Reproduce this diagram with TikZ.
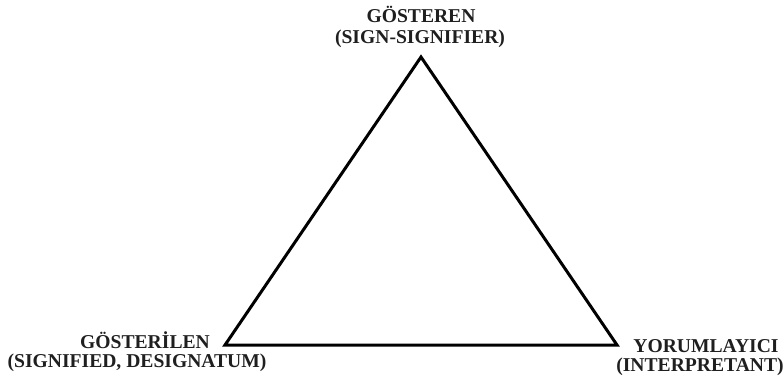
\documentclass[tikz,border=0pt]{standalone}
\usepackage{fontspec}
\setmainfont{Liberation Serif}
\begin{document}
\begin{tikzpicture}[x=1pt,y=-1pt,
  lbl/.style={anchor=base,inner sep=0pt,font=\fontsize{19.6}{21}\selectfont\bfseries,text=black!88},
  tri/.style={line width=3pt,line join=miter,black}]
\useasboundingbox (0,0) rectangle (784,379);
\coordinate (A) at (421,57);
\coordinate (B) at (225,345);
\coordinate (C) at (617,345);
\draw[tri] (A) -- (B) -- (C) -- cycle;
\node[lbl] (t1) at (421,23) {GÖSTEREN};
\node[lbl] (t2) at (420,44) {(SIGN-SIGNIFIER)};
\node[lbl] (l1) at (145,348) {GÖSTERİLEN};
\node[lbl] (l2) at (137,367) {(SIGNIFIED, DESIGNATUM)};
\node[lbl] (r1) at (706,352) {YORUMLAYICI};
\node[lbl] (r2) at (700,371) {(INTERPRETANT)};
\end{tikzpicture}
\end{document}
